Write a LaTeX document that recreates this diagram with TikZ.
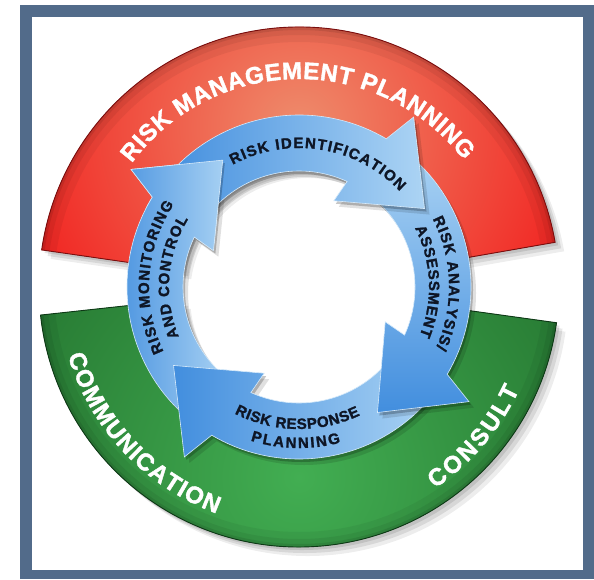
\documentclass[tikz,border=0pt]{standalone}
\usepackage{fontspec}
\setmainfont{Liberation Sans}
\newfontfamily\heavyfam{Liberation Sans}[BoldFeatures={FakeBold=1.6}]
\usetikzlibrary{decorations.text,calc}

\definecolor{frameblue}{RGB}{82,107,138}
\definecolor{ringred}{RGB}{242,26,26}
\definecolor{redglow}{RGB}{238,140,108}
\definecolor{redline}{RGB}{120,14,14}
\definecolor{ringgreen}{RGB}{34,112,45}
\definecolor{greenglow}{RGB}{66,174,82}
\definecolor{greenline}{RGB}{14,56,22}
\definecolor{arrowdark}{RGB}{66,142,222}
\definecolor{arrowlight}{RGB}{172,212,244}
\definecolor{arrowline}{RGB}{214,234,250}
\definecolor{labelink}{RGB}{14,22,38}

\newcommand\ringfont{\heavyfam\bfseries\fontsize{24}{24}\selectfont}
\newcommand\arrowfont{\heavyfam\bfseries\fontsize{15}{15}\selectfont}
\newcommand\ringsector[4]{(#1:#3) arc[start angle=#1,end angle=#2,radius=#3] -- (#2:#4) arc[start angle=#2,end angle=#1,radius=#4] -- cycle}
\newcommand\arrowpath[2]{(#1:172) arc[start angle=#1,end angle={#2-0.5},radius=172] -- ({#2-4}:205) -- ({#2-28}:148) -- ({#2+8}:93) -- ({#2+5.5}:116) arc[start angle={#2+5.5},end angle=#1,radius=116] -- cycle}

\tikzset{
  arrowbody/.style={draw=arrowline,line width=0.6},
  ringtext/.style={decorate,decoration={text along path,text align=fit to path,text color=white,text={|\ringfont|#1}}},
  arrowtext/.style={decorate,decoration={text along path,text align=fit to path,text color=labelink,text={|\arrowfont|#1}}},
}

\begin{document}
\begin{tikzpicture}[x=1pt,y=1pt]
\useasboundingbox (0,0) rectangle (594,579);
\fill[white] (0,0) rectangle (594,579);
\fill[frameblue] (20,0) rectangle (594,574);
\fill[white] (32,9) rectangle (583,562);
\coordinate (C) at (299,292);
\begin{scope}[shift={(C)}]
  % ring shadows
  \foreach \s/\o in {3/0.10,6/0.09,9/0.07}{
    \fill[black,opacity=\o,shift={(\s,-\s)}] \ringsector{9.9}{171.8}{260}{118};
    \fill[black,opacity=\o,shift={(\s,-\s)}] \ringsector{186.2}{352.1}{260}{118};
  }
  % red ring
  \begin{scope}
    \clip \ringsector{9.9}{171.8}{260}{118};
    \fill[ringred] (0,0) circle (262);
    \shade[inner color=redglow,outer color=ringred] (0,160) circle (320);
    \foreach \w/\o in {30/0.05,16/0.06,6/0.09} \draw[black,opacity=\o,line width=\w] (0,0) circle (260);
  \end{scope}
  \draw[redline,line width=0.9] \ringsector{9.9}{171.8}{260}{118};
  % green ring
  \begin{scope}
    \clip \ringsector{186.2}{352.1}{260}{118};
    \fill[ringgreen] (0,0) circle (262);
    \shade[inner color=greenglow,outer color=ringgreen] (0,-190) circle (380);
    \foreach \w/\o in {30/0.05,16/0.06,6/0.09} \draw[black,opacity=\o,line width=\w] (0,0) circle (260);
  \end{scope}
  \draw[greenline,line width=0.9] \ringsector{186.2}{352.1}{260}{118};

  % ring labels
  \path[ringtext={RISK MANAGEMENT PLANNING}] (143.5:208) arc[start angle=143.5,end angle=37.5,radius=208];
  \path[ringtext={COMMUNICATION}] (196.5:241) arc[start angle=196.5,end angle=250,radius=241];
  \path[ringtext={CONSULT}] (-56:243) arc[start angle=-56,end angle=-25,radius=243];

  % arrows: monitoring, response, analysis, identification
  \foreach \s/\o in {2/0.22,5/0.12}
    \fill[black,opacity=\o,shift={(\s,-\s-1)}] \arrowpath{234}{149};
  \shade[arrowbody,left color=arrowdark,right color=arrowlight] \arrowpath{234}{149};

  \foreach \s/\o in {2/0.22,5/0.12}
    \fill[black,opacity=\o,shift={(\s,-\s-1)}] \arrowpath{-36}{-120};
  \shade[arrowbody,left color=arrowdark,right color=arrowlight] \arrowpath{-36}{-120};

  \foreach \s/\o in {2/0.22,5/0.12}
    \fill[black,opacity=\o,shift={(\s,-\s-1)}] \arrowpath{54}{-30};
  \shade[arrowbody,top color=arrowlight,bottom color=arrowdark] \arrowpath{54}{-30};

  \foreach \s/\o in {2/0.22,5/0.12}
    \fill[black,opacity=\o,shift={(\s,-\s-1)}] \arrowpath{143}{60};
  \shade[arrowbody,left color=arrowdark,right color=arrowlight] \arrowpath{143}{60};

  % monitoring head over identification tail
  \begin{scope}
    \clip \arrowpath{143}{60};
    \fill[black,opacity=0.22,shift={(2,-3)}] ({149-4}:205) -- ({149-28}:148) -- ({149+8}:93) -- cycle;
  \end{scope}
  \begin{scope}
    \clip (0,0) -- (117:235) arc[start angle=117,end angle=153,radius=235] -- cycle;
    \shade[arrowbody,left color=arrowdark,right color=arrowlight] \arrowpath{234}{149};
  \end{scope}

  % arrow labels
  \path[arrowtext={RISK IDENTIFICATION}] (118.5:139) arc[start angle=118.5,end angle=43.5,radius=139];
  \path[arrowtext={RISK ANALYSIS/}] (27:150) arc[start angle=27,end angle=-24,radius=150];
  \path[arrowtext={ASSESSMENT}] (27:130) arc[start angle=27,end angle=-22,radius=130];
  \path[arrowtext={RISK RESPONSE}] (243:142) arc[start angle=243,end angle=295.5,radius=142];
  \path[arrowtext={PLANNING}] (252.5:161) arc[start angle=252.5,end angle=285,radius=161];
  \path[arrowtext={RISK MONITORING}] (205.5:150) arc[start angle=205.5,end angle=146.5,radius=150];
  \path[arrowtext={AND CONTROL}] (202.5:130) arc[start angle=202.5,end angle=148.5,radius=130];
\end{scope}
\end{tikzpicture}
\end{document}
